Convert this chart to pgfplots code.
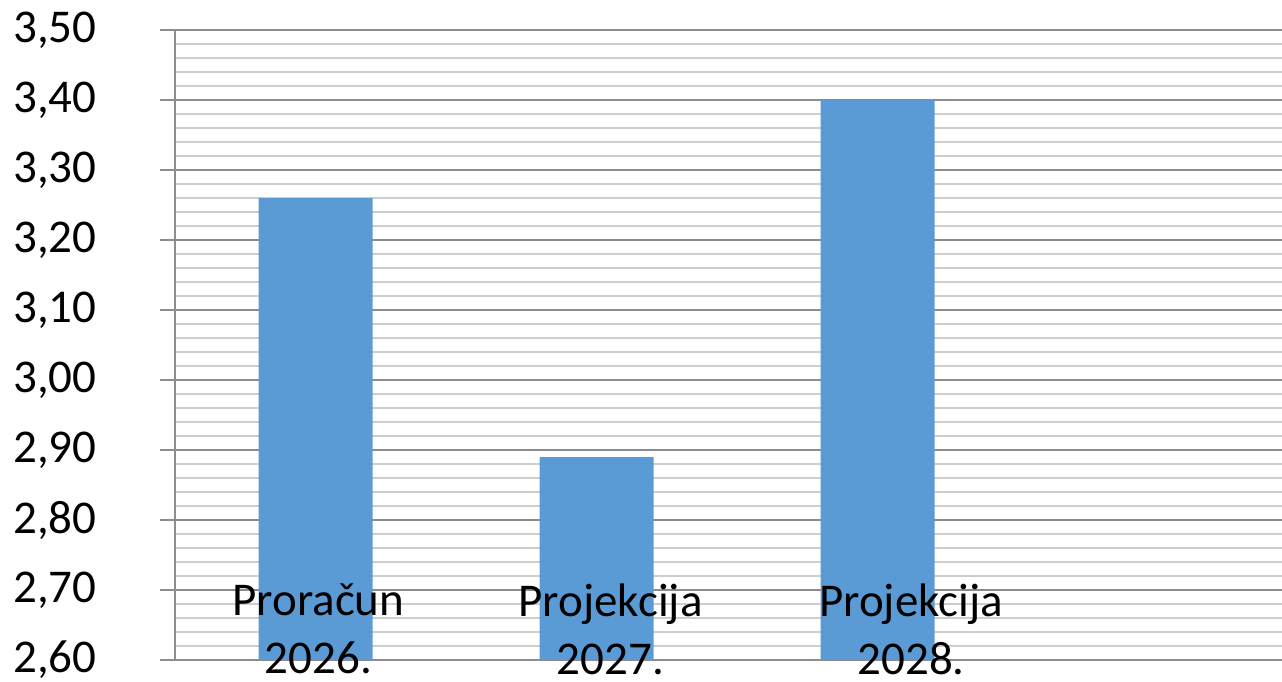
\documentclass[border=0pt]{standalone}
\usepackage{pgfplots}
\pgfplotsset{compat=1.18}
\usepackage{fontspec}
\setmainfont{Carlito}
\definecolor{barblue}{HTML}{5B9BD5}
\definecolor{majgrid}{HTML}{8C8C8C}
\definecolor{mingrid}{HTML}{CDCDCD}
\pgfplotsset{
  layers/labelsontop/.define layer set={
    axis background,axis grid,axis ticks,axis lines,pre main,main,axis tick labels,axis descriptions,axis foreground
  }{/pgfplots/layers/standard},
}
\begin{document}
\begin{tikzpicture}[x=1pt,y=1pt]
\begin{axis}[
  set layers=labelsontop,
  at={(175pt,21pt)}, anchor=south west,
  scale only axis,
  width=1107pt, height=630pt,
  xmin=-0.5, xmax=3.4395,
  ymin=2.6, ymax=3.5,
  ytick={2.6,2.7,2.8,2.9,3.0,3.1,3.2,3.3,3.4,3.5},
  minor y tick num=4,
  ymajorgrids, yminorgrids,
  major grid style={majgrid, line width=2pt},
  minor grid style={mingrid, line width=2pt},
  axis x line*=bottom, axis y line*=left,
  axis line style={majgrid, line width=2.5pt, -},
  tick align=outside,
  major tick length=15pt, minor tick length=0pt,
  ytick style={majgrid, line width=2pt},
  xtick style={draw=none},
  xtick={0.01,1.05,2.12},
  xticklabels={{Proračun\\2026.},{Projekcija\\2027.},{Projekcija\\2028.}},
  xticklabel style={align=center, font=\fontsize{47}{58}\selectfont, yshift=95pt},
  yticklabel style={font=\fontsize{47}{56}\selectfont, xshift=-60pt},
  y tick label style={/pgf/number format/.cd, fixed, fixed zerofill, precision=2, use comma, assume math mode=true},
  ybar, bar width=114pt,
]
\addplot[fill=barblue, draw=none] coordinates {(0,3.26) (1,2.89) (2,3.40)};
\end{axis}
\pgfresetboundingbox
\path (0,0) rectangle (1282pt,681pt);
\end{tikzpicture}
\end{document}
